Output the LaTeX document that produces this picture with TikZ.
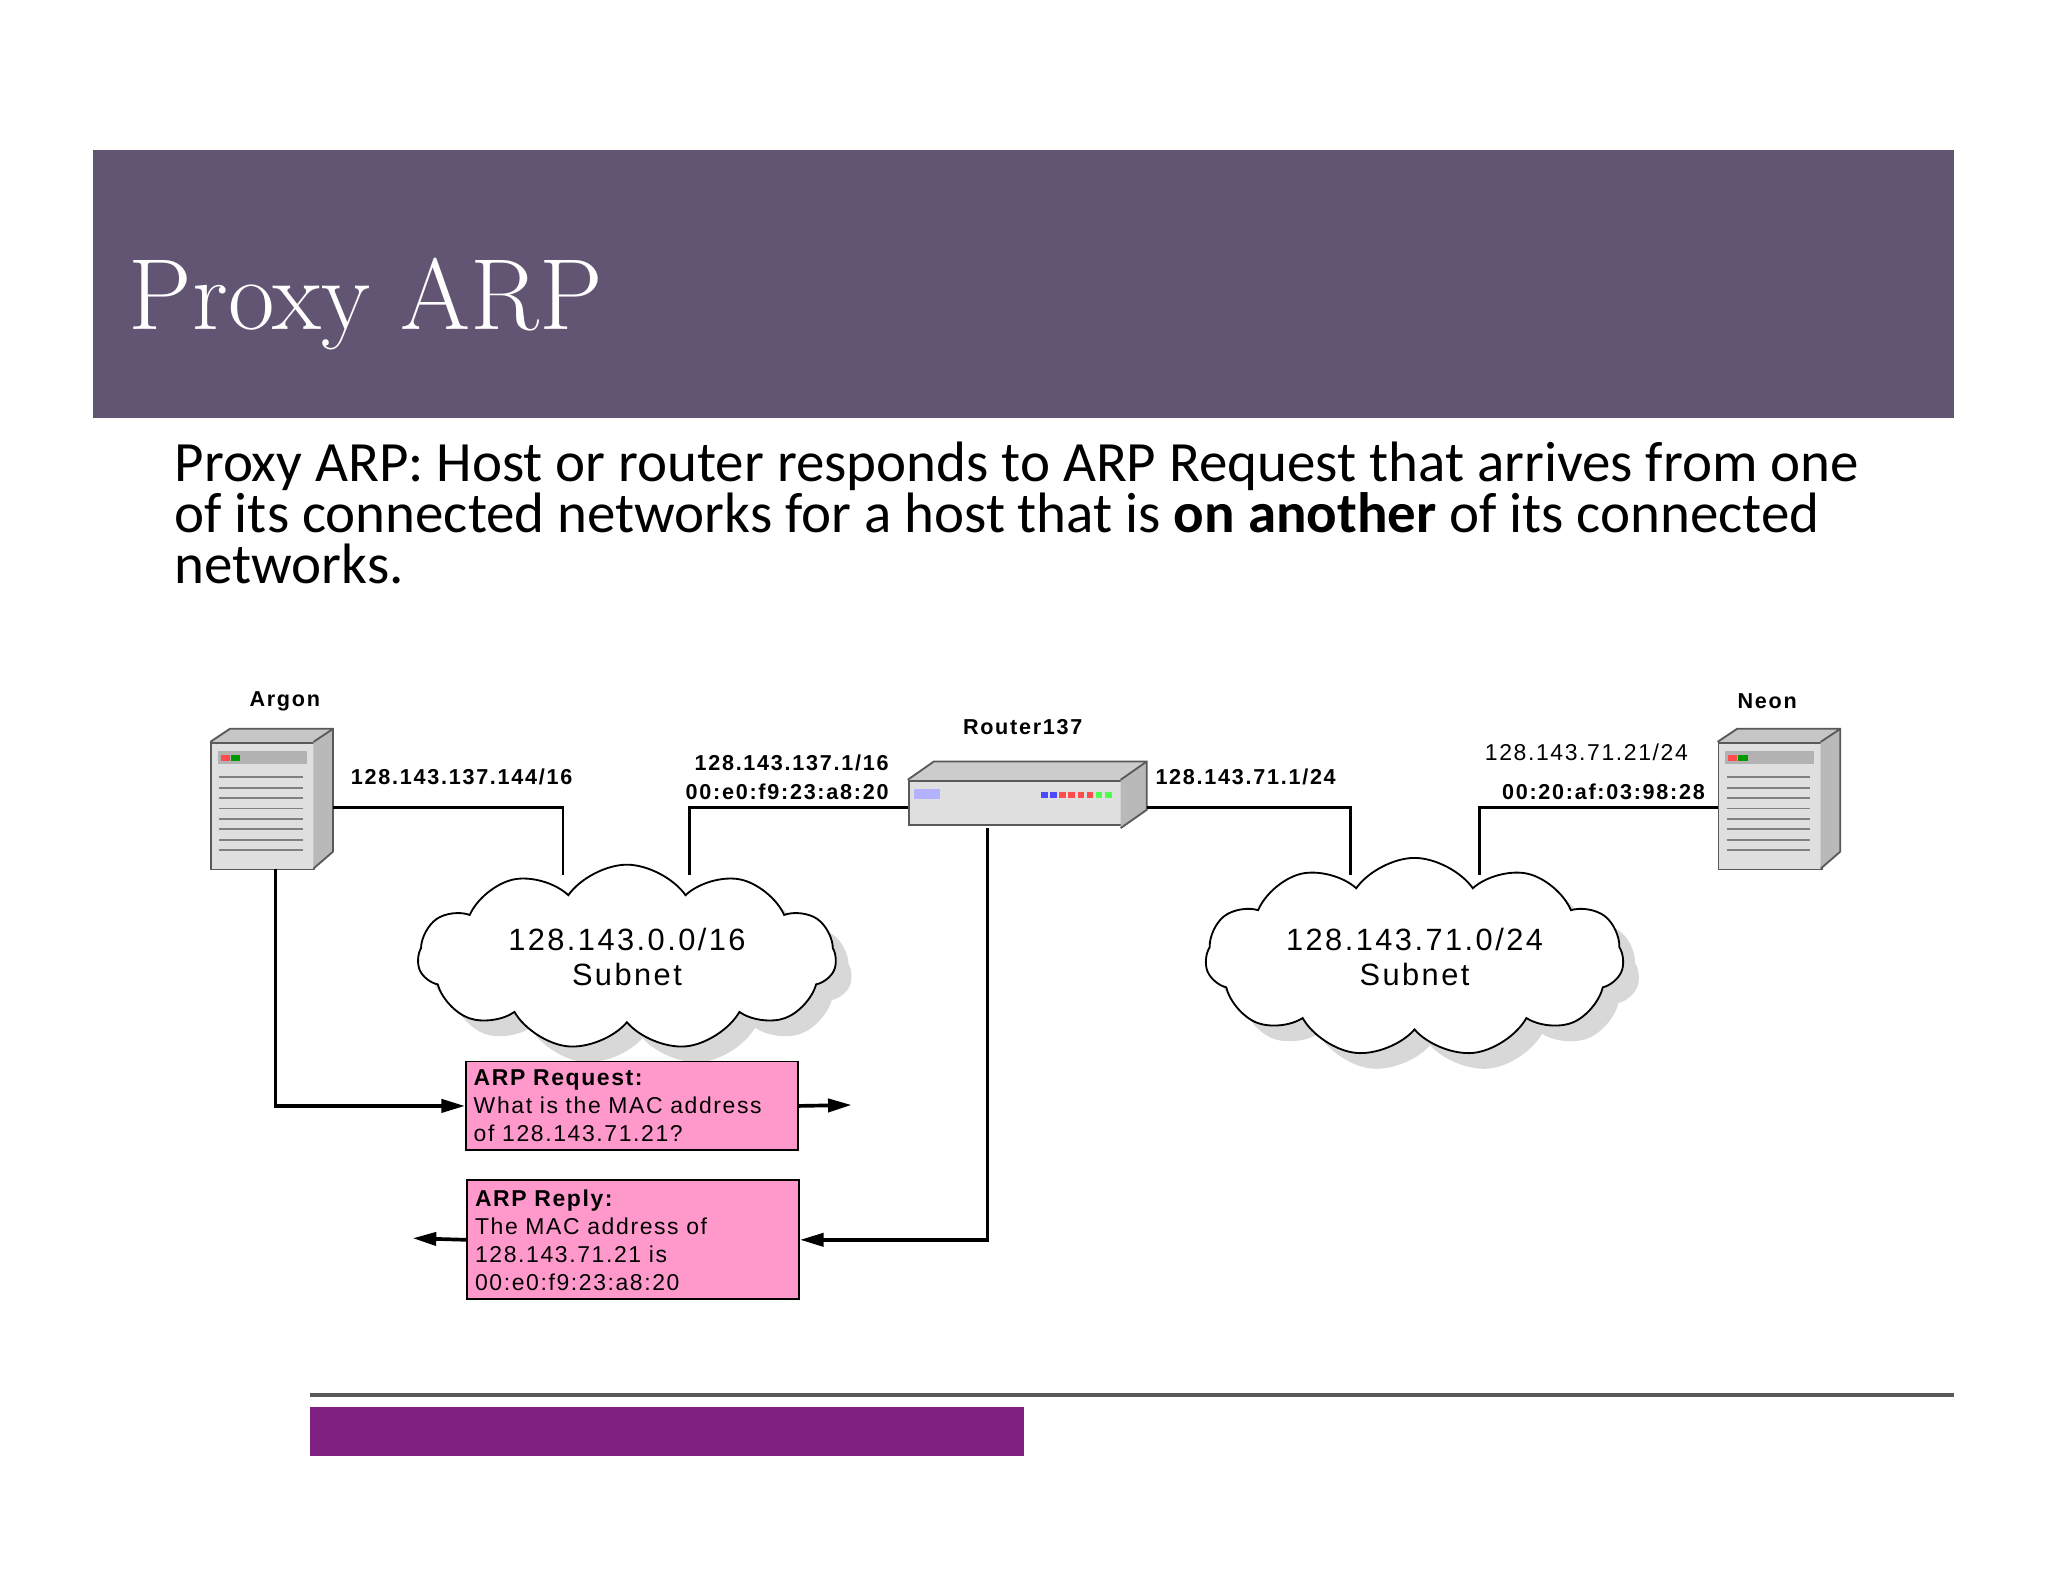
\documentclass[tikz,border=0pt]{standalone}
\usepackage{fontspec}
\setmainfont{Latin Modern Roman}
\newfontfamily\bodyf{Carlito}
\newfontfamily\arialf[LetterSpace=8]{Liberation Sans}
\newfontfamily\arialb[LetterSpace=7]{Liberation Sans}
\usetikzlibrary{shapes.symbols,shadows,arrows.meta}
\definecolor{barc}{HTML}{625574}
\definecolor{pinkc}{HTML}{FF99CC}
\definecolor{purc}{HTML}{7F1F7F}
\tikzset{
  lab/.style={font=\arialf\fontsize{4.7}{5.6}\selectfont\bfseries,inner sep=0,align=center},
  labn/.style={font=\arialb\fontsize{5}{6}\selectfont,inner sep=0},
  cl/.style={cloud,cloud puffs=11,cloud puff arc=110,aspect=2.8,draw,fill=white,minimum width=3.2cm,minimum height=1.12cm,
     drop shadow={shadow xshift=0.12cm,shadow yshift=-0.12cm,fill=gray!60},font=\arialf\fontsize{6.7}{7.6}\selectfont,align=center},
  box/.style={draw,fill=pinkc,anchor=north west,inner sep=0.06cm,align=left,font=\arialb\fontsize{5}{6.1}\selectfont},
  wire/.style={line width=0.6pt},
  arr/.style={line width=0.8pt,-{Triangle[length=0.18cm,width=0.1cm]}},
  srv/.style={draw=gray!70!black,fill=gray!25,minimum width=0.79cm,minimum height=0.97cm,anchor=north west,inner sep=0}
}
\begin{document}
\begin{tikzpicture}[x=0.01cm,y=-0.01cm]
\useasboundingbox (0,0) rectangle (1568,1211);
\fill[white] (0,0) rectangle (1568,1211);
\fill[barc] (71,115) rectangle (1496,320);
\node[anchor=base west,text=white,font=\fontsize{22}{24}\selectfont,inner sep=0] (title) at (98,252) {Proxy ARP};
\node[anchor=north west,inner sep=0,align=left,font=\bodyf\fontsize{12.4}{11.1}\selectfont] (body) at (133,338)
 {Proxy ARP: Host or router responds to ARP Request that arrives from one\\of its connected networks for a host that is \textbf{on another} of its connected\\networks.};
% servers
\node[srv] (argon) at (161,568) {};
\fill[gray!45] (161,568)--(176,558)--(255,558)--(240,568)--cycle;
\fill[gray!55] (240,568)--(255,558)--(255,652)--(240,665)--cycle;
\draw[gray!70!black] (161,568)--(176,558)--(255,558)--(255,652)--(240,665) (240,568)--(255,558);
\foreach \y in {595,603,611,619,627,635,643,651} \draw[gray] (168,\y)--(232,\y);
\fill[gray!60] (167,575) rectangle (235,585); \fill[red!70] (169,578) rectangle (176,583); \fill[green!60!black] (177,578) rectangle (184,583);
\node[srv] (neon) at (1315,568) {};
\fill[gray!45] (1315,568)--(1330,558)--(1409,558)--(1394,568)--cycle;
\fill[gray!55] (1394,568)--(1409,558)--(1409,652)--(1394,665)--cycle;
\draw[gray!70!black] (1315,568)--(1330,558)--(1409,558)--(1409,652)--(1394,665) (1394,568)--(1409,558);
\foreach \y in {595,603,611,619,627,635,643,651} \draw[gray] (1322,\y)--(1386,\y);
\fill[gray!60] (1321,575) rectangle (1389,585); \fill[red!70] (1323,578) rectangle (1330,583); \fill[green!60!black] (1331,578) rectangle (1338,583);
% router
\node[draw=gray!70!black,fill=gray!25,minimum width=1.63cm,minimum height=0.34cm,anchor=north west,inner sep=0] (router) at (695,597) {};
\fill[gray!40] (695,597)--(715,583)--(878,583)--(858,597)--cycle;
\fill[gray!55] (858,597)--(878,583)--(878,620)--(858,634)--cycle;
\draw[gray!70!black] (695,597)--(715,583)--(878,583)--(878,620)--(858,634) (858,597)--(878,583);
\fill[blue!30] (700,604) rectangle (720,612);
\foreach \i/\c in {0/blue,1/blue,2/red,3/red,4/red,5/red,6/green,7/green} \fill[\c!70] (797+\i*7,606) rectangle (802+\i*7,611);
\node[lab] (argonl) at (218,537) {Argon};
\node[lab] (neonl) at (1353,537) {Neon};
\node[lab] (routerl) at (783,557) {Router137};
% clouds
\node[cl] (c1) at (480,733) {128.143.0.0/16\\Subnet};
\node[cl] (c2) at (1083,733) {128.143.71.0/24\\Subnet};
% wires
\coordinate (c1a) at (431,670); \coordinate (c1b) at (528,670);
\coordinate (c2a) at (1034,670); \coordinate (c2b) at (1133,670);
\draw[wire] (255,618) -| (c1a);
\draw[wire] (router.west |- 0,618) -| (c1b);
\draw[wire] (878,618) -| (c2a);
\draw[wire] (neon.west |- 0,618) -| (c2b);
\node[lab,anchor=base west] (ip1) at (268,601) {128.143.137.144/16};
\node[lab,anchor=base east] (ip2) at (681,590) {128.143.137.1/16};
\node[lab,anchor=base east] (mac2) at (681,612) {00:e0:f9:23:a8:20};
\node[lab,anchor=base west] (ip3) at (884,601) {128.143.71.1/24};
\node[labn,anchor=base east] (ip4) at (1293,582) {128.143.71.21/24};
\node[lab,anchor=base east] (mac4) at (1306,612) {00:20:af:03:98:28};
% boxes
\node[box,text width=2.42cm,minimum height=0.68cm] (req) at (356,812) {\textbf{ARP Request:}\\What is the MAC address\\of 128.143.71.21?};
\node[box,text width=2.42cm,minimum height=0.91cm] (rep) at (357,903) {\textbf{ARP Reply:}\\The MAC address of\\128.143.71.21 is\\00:e0:f9:23:a8:20};
\coordinate (a0) at (211,665); \coordinate (a1) at (652,846);
\draw[arr] (a0) |- (req.west);
\draw[arr] (req.east) -- (a1);
\coordinate (r0) at (756,634); \coordinate (r1) at (316,948);
\draw[arr] (r0) |- (rep.east);
\draw[arr] (rep.west) -- (r1);
% footer
\draw[gray!70!black,line width=0.8pt] (237,1068)--(1496,1068);
\fill[purc] (237,1077) rectangle (784,1115);
\end{tikzpicture}
\end{document}
